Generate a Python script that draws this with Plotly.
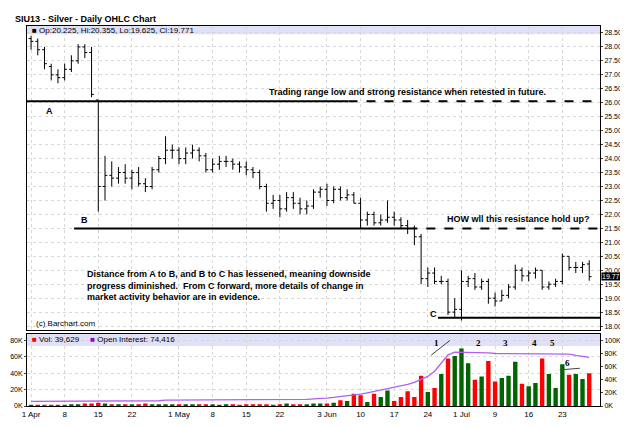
import pandas as pd
import plotly.graph_objects as go

# trading days Apr 1 - Jul 29 2013 (Memorial Day and Jul 4 closed)
days = [d for d in pd.bdate_range("2013-04-01", "2013-07-29")
        if d.strftime("%m-%d") not in ("05-27", "07-04")]

opens = [28.3, 28.2, 27.9, 27.3, 27.0, 26.9, 27.2, 27.5, 28.0, 27.8, 26.1, 23.0, 23.4, 23.3, 23.5, 23.3, 23.5, 23.1, 23.0, 23.6, 24.0, 24.3,
         24.3, 24.0, 24.2, 24.3, 24.1, 23.6, 23.8, 23.9, 23.9, 23.8, 23.7, 23.6, 23.5, 23.0, 22.4, 22.5, 22.2, 22.6, 22.4, 22.2, 22.3, 22.8,
         22.9, 22.5, 22.9, 22.6, 22.7, 22.4, 21.8, 22.0, 21.7, 21.8, 21.9, 21.8, 21.6, 21.5, 21.2, 19.7, 19.9, 19.6, 19.6, 18.5,
         18.6, 19.6, 19.7, 19.4, 19.6, 19.0, 18.9, 19.1, 19.4, 20.0, 19.8, 19.9, 20.0, 19.4, 19.5, 19.6, 20.5, 20.1, 20.1, 20.225]
highs = [28.4, 28.3, 28.0, 27.4, 27.2, 27.4, 27.7, 28.1, 28.1, 28.0, 26.1, 24.1, 23.9, 23.7, 23.8, 23.6, 23.7, 23.3, 23.7, 24.1, 24.8, 24.5,
         24.4, 24.4, 24.5, 24.4, 24.2, 24.0, 24.1, 24.1, 24.0, 23.9, 23.9, 23.7, 23.6, 23.1, 22.7, 22.7, 22.8, 22.8, 22.6, 22.5, 22.9, 23.0,
         23.1, 23.0, 23.0, 22.9, 22.8, 22.6, 22.1, 22.1, 22.0, 22.5, 22.1, 21.9, 21.8, 21.6, 21.3, 20.1, 20.1, 19.8, 19.7, 19.0,
         20.0, 19.8, 19.9, 19.7, 19.7, 19.2, 19.3, 19.5, 20.2, 20.1, 20.0, 20.1, 20.0, 19.6, 19.7, 20.6, 20.5, 20.3, 20.3, 20.355]
lows = [27.9, 27.7, 27.2, 26.8, 26.7, 26.8, 27.1, 27.4, 27.6, 26.2, 22.1, 22.5, 23.0, 23.1, 23.1, 22.9, 23.0, 22.8, 22.9, 23.5, 23.8, 24.0,
        23.8, 23.8, 24.0, 23.9, 23.5, 23.5, 23.6, 23.7, 23.6, 23.5, 23.4, 23.3, 22.9, 22.1, 22.2, 21.9, 22.1, 22.2, 22.0, 22.0, 22.2, 22.6,
        22.3, 22.4, 22.5, 22.5, 22.4, 21.5, 21.6, 21.6, 21.6, 21.7, 21.6, 21.5, 21.3, 20.9, 19.5, 19.4, 19.5, 19.5, 18.4, 18.3,
        18.2, 19.4, 19.3, 19.3, 18.8, 18.7, 18.9, 19.0, 19.3, 19.6, 19.6, 19.7, 19.3, 19.3, 19.4, 19.5, 20.0, 19.9, 19.9, 19.625]
closes = [28.2, 27.9, 27.4, 27.0, 26.9, 27.2, 27.5, 28.0, 27.8, 26.3, 23.0, 23.4, 23.3, 23.5, 23.3, 23.5, 23.1, 23.0, 23.6, 24.0, 24.3, 24.3,
          24.0, 24.2, 24.3, 24.1, 23.6, 23.8, 23.9, 23.9, 23.8, 23.7, 23.6, 23.5, 23.0, 22.4, 22.5, 22.2, 22.6, 22.4, 22.2, 22.3, 22.8, 22.9,
          22.5, 22.9, 22.6, 22.7, 22.4, 21.8, 22.0, 21.7, 21.8, 21.9, 21.8, 21.6, 21.5, 21.2, 19.7, 19.9, 19.6, 19.6, 18.5, 18.6,
          19.6, 19.7, 19.4, 19.6, 19.0, 18.9, 19.1, 19.4, 20.0, 19.8, 19.9, 20.0, 19.4, 19.5, 19.6, 20.5, 20.1, 20.1, 20.2, 19.771]
volume_k = [1, 1, 1, 1, 1, 1, 2, 2, 3, 3, 4, 3, 2, 2, 2, 2, 2, 3, 2, 2, 2, 2,
            2, 2, 2, 2, 2, 2, 1, 2, 2, 1, 2, 2, 2, 2, 1, 2, 3, 2, 2, 2, 3, 3,
            3, 4, 7, 6, 15, 13, 5, 15, 11, 19, 6, 11, 18, 11, 37, 17, 22, 39, 58, 61,
            70, 52, 32, 36, 55, 30, 34, 37, 54, 27, 24, 28, 58, 39, 22, 51, 38, 39, 33, 40]
oi_k = [7, 7, 7, 7, 7, 7, 7, 7, 8, 8, 8, 8, 8, 8, 8, 8, 8, 8, 8, 8, 9, 9,
        9, 9, 9, 9, 9, 9, 9, 9, 9, 9, 9, 9, 9, 9, 9, 9, 9, 10, 10, 10, 11, 11,
        12, 13, 14, 15, 16, 18, 20, 22, 24, 26, 28, 30, 33, 36, 40, 45, 53, 65, 78, 82,
        82, 82, 81, 81, 81, 80, 80, 80, 80, 80, 80, 80, 80, 80, 79, 79, 79, 77, 75, 74]
tick_dates = ["2013-04-01", "2013-04-08", "2013-04-15", "2013-04-22", "2013-05-01", "2013-05-08", "2013-05-15",
              "2013-05-22", "2013-06-03", "2013-06-10", "2013-06-17", "2013-06-24", "2013-07-01", "2013-07-09",
              "2013-07-16", "2013-07-23"]
tick_text = ["1 Apr", "8", "15", "22", "1 May", "8", "15", "22", "3 Jun", "10", "17", "24", "1 Jul", "9", "16", "23"]

idx = list(range(len(days)))
day_pos = {d.strftime("%Y-%m-%d"): i for i, d in enumerate(days)}
tick_vals = [day_pos[d] for d in tick_dates]
vol_colors = ["#ff0000" if i > 0 and closes[i] < closes[i - 1] else "#006400" for i in idx]

FONT = "Liberation Sans"
fig = go.Figure()
fig.add_trace(go.Ohlc(x=idx, open=opens, high=highs, low=lows, close=closes,
                      increasing_line=dict(color="black", width=1),
                      decreasing_line=dict(color="black", width=1),
                      tickwidth=0.35, xaxis="x", yaxis="y", showlegend=False, hoverinfo="skip"))
fig.add_trace(go.Bar(x=idx, y=[v * 1000 for v in volume_k], marker_color=vol_colors, marker_line_width=0,
                     width=0.65, xaxis="x2", yaxis="y2", showlegend=False))
fig.add_trace(go.Scatter(x=idx, y=[v * 1000 for v in oi_k], mode="lines", line=dict(color="#b060f0", width=1.3),
                         xaxis="x2", yaxis="y3", showlegend=False))

grid = dict(showgrid=True, gridcolor="#d8d8d8", griddash="dot", gridwidth=1)
frame = dict(showline=True, linecolor="black", linewidth=1, mirror=True, zeroline=False)
xr = [-0.6, 84.6]
small = dict(size=7, family=FONT)

fig.update_layout(
    width=628, height=428, margin=dict(l=19, r=36, t=18, b=30),
    paper_bgcolor="white", plot_bgcolor="white",
    font=dict(family=FONT, size=8, color="black"),
    xaxis=dict(domain=[0, 1], anchor="y", range=xr, showticklabels=False, tickvals=tick_vals,
               rangeslider=dict(visible=False), **grid, **frame),
    yaxis=dict(domain=[0.2, 1], range=[17.86, 28.75], side="right", dtick=0.5, tickformat=".3f",
               ticks="outside", ticklen=2, tickfont=small, automargin=False, **grid, **frame),
    xaxis2=dict(domain=[0, 1], anchor="y2", range=xr, tickvals=tick_vals, ticktext=tick_text,
                tickfont=dict(size=8, family=FONT), automargin=False, **grid, **frame),
    yaxis2=dict(domain=[0, 0.19], range=[0, 88000], tickvals=[0, 20000, 40000, 60000, 80000],
                ticktext=["0K", "20K", "40K", "60K", "80K"], side="left", automargin=False,
                ticklen=2, ticks="outside", tickfont=small, **grid, **frame),
    yaxis3=dict(overlaying="y2", side="right", range=[0, 110000], tickvals=[0, 20000, 40000, 60000, 80000, 100000],
                ticktext=["0K", "20K", "40K", "60K", "80K", "100K"], showgrid=False, zeroline=False,
                ticks="outside", ticklen=2, tickfont=small, automargin=False),
    bargap=0.3,
)

# header strips
fig.add_shape(type="rect", xref="paper", yref="y", x0=0, x1=1, y0=28.45, y1=28.75,
              fillcolor="#e0e0f8", line_width=0, layer="below")
fig.add_shape(type="rect", xref="paper", yref="y2", x0=0, x1=1, y0=73000, y1=88000,
              fillcolor="#e0e0f8", line_width=0, layer="below")
fig.add_annotation(xref="paper", yref="y", x=0.005, y=28.6, xanchor="left", showarrow=False,
                   text="■ Op:20.225, Hi:20.355, Lo:19.625, Cl:19.771", font=dict(size=8))
fig.add_annotation(xref="paper", yref="y2", x=0.005, y=80500, xanchor="left", showarrow=False,
                   text="<span style='color:#ff0000'>■</span> Vol: 39,629     "
                        "<span style='color:#9000e0'>■</span> Open Interest: 74,416", font=dict(size=8))
fig.add_annotation(xref="paper", yref="paper", x=-0.025, y=1.0, xanchor="left", yanchor="bottom",
                   showarrow=False, text="<b>SIU13 - Silver - Daily OHLC Chart</b>", font=dict(size=9))

# support / resistance lines
def hline(y, x0, x1, dash):
    fig.add_shape(type="line", xref="x", yref="y", x0=x0, x1=x1, y0=y, y1=y,
                  line=dict(color="black", width=2, dash=dash))

hline(26.05, -0.6, 47.2, "solid")
hline(26.05, 47.2, 84.6, "dash")
hline(21.5, 6.4, 56.1, "solid")
hline(21.5, 56.1, 84.6, "dash")
hline(18.3, 60.5, 84.6, "solid")

bold = dict(size=9, family=FONT)
fig.add_annotation(x=56, y=26.4, text="<b>Trading range low and strong resistance when retested in future.</b>",
                   showarrow=False, font=bold)
fig.add_annotation(x=2.8, y=25.7, text="<b>A</b>", showarrow=False, font=bold)
fig.add_annotation(x=8.0, y=21.8, text="<b>B</b>", showarrow=False, font=bold)
fig.add_annotation(x=72.5, y=21.85, text="<b>HOW wll this resistance hold up?</b>", showarrow=False, font=bold)
fig.add_annotation(x=8.0, y=19.45, xanchor="left", align="left", showarrow=False, font=bold,
                   text="<b>Distance from A to B, and B to C has lessened, meaning downside<br>"
                        "progress diminished.  From C forward, more details of change in<br>"
                        "market activity behavior are in evidence.</b>")
fig.add_annotation(x=59.8, y=18.45, text="<b>C</b>", showarrow=False, font=bold)
fig.add_annotation(x=0.5, y=18.1, xanchor="left", text="(c) Barchart.com", showarrow=False, font=dict(size=8))
fig.add_annotation(xref="paper", yref="y", x=1.002, y=19.771, xanchor="left", text="19.771", showarrow=False,
                   bgcolor="black", font=dict(color="white", size=7, family=FONT), borderpad=0)

# volume wave labels
for lbl, xi, yv in [("1", 60.3, 77000), ("2", 66.5, 77000), ("3", 70.6, 77000), ("4", 74.8, 77000),
                    ("5", 77.6, 77000), ("6", 79.7, 52000)]:
    fig.add_annotation(x=xi, y=yv, xref="x2", yref="y2", text=f"<b>{lbl}</b>", showarrow=False,
                       font=dict(size=9, family="Liberation Serif"))
fig.add_shape(type="line", xref="x2", yref="y2", x0=59.5, x1=62.3, y0=62000, y1=80000,
              line=dict(color="#444", width=1))
fig.add_shape(type="line", xref="x2", yref="y2", x0=78.6, x1=81.6, y0=44000, y1=46000,
              line=dict(color="#444", width=1))

fig.write_html("out.html")
